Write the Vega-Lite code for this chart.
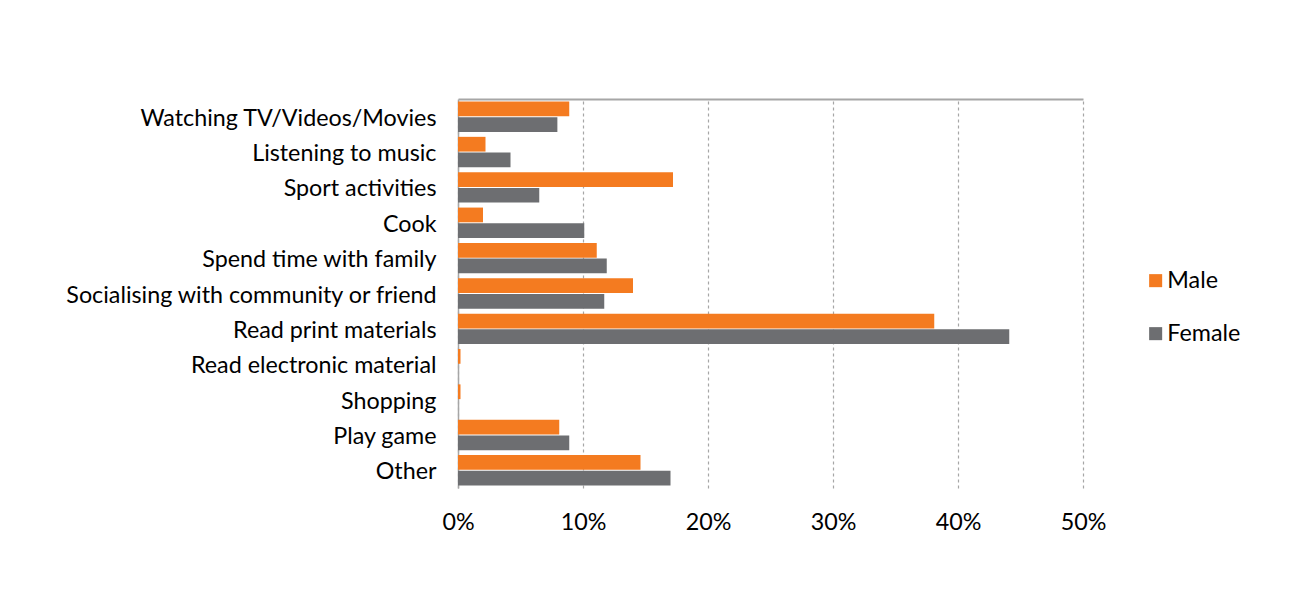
{
  "$schema": "https://vega.github.io/schema/vega-lite/v6.json",
  "autosize": "none",
  "width": 625,
  "height": 389,
  "padding": {"left": 458, "top": 99, "right": 207, "bottom": 126},
  "background": "white",
  "config": {
    "font": "Lato",
    "view": {"stroke": null},
    "axis": {"labelFont": "Lato", "labelColor": "#000000"},
    "legend": {"labelFont": "Lato"}
  },
  "data": {
    "values": [
      {"activity": "Watching TV/Videos/Movies", "gender": "Male", "value": 0.089},
      {"activity": "Watching TV/Videos/Movies", "gender": "Female", "value": 0.0795},
      {"activity": "Listening to music", "gender": "Male", "value": 0.022},
      {"activity": "Listening to music", "gender": "Female", "value": 0.042},
      {"activity": "Sport activities", "gender": "Male", "value": 0.172},
      {"activity": "Sport activities", "gender": "Female", "value": 0.065},
      {"activity": "Cook", "gender": "Male", "value": 0.020},
      {"activity": "Cook", "gender": "Female", "value": 0.101},
      {"activity": "Spend time with family", "gender": "Male", "value": 0.111},
      {"activity": "Spend time with family", "gender": "Female", "value": 0.119},
      {"activity": "Socialising with community or friend", "gender": "Male", "value": 0.140},
      {"activity": "Socialising with community or friend", "gender": "Female", "value": 0.117},
      {"activity": "Read print materials", "gender": "Male", "value": 0.381},
      {"activity": "Read print materials", "gender": "Female", "value": 0.441},
      {"activity": "Read electronic material", "gender": "Male", "value": 0.002},
      {"activity": "Read electronic material", "gender": "Female", "value": 0.0},
      {"activity": "Shopping", "gender": "Male", "value": 0.002},
      {"activity": "Shopping", "gender": "Female", "value": 0.0},
      {"activity": "Play game", "gender": "Male", "value": 0.081},
      {"activity": "Play game", "gender": "Female", "value": 0.089},
      {"activity": "Other", "gender": "Male", "value": 0.146},
      {"activity": "Other", "gender": "Female", "value": 0.170}
    ]
  },
  "resolve": {"axis": {"x": "independent"}},
  "layer": [
    {
      "mark": {"type": "bar"},
      "encoding": {
        "y": {
          "field": "activity", "type": "nominal", "sort": null,
          "scale": {"paddingInner": 0.14, "paddingOuter": 0.07},
          "axis": {
            "title": null, "domainColor": "#a6a6a6", "domainWidth": 1.5,
            "ticks": false, "labelFontSize": 23.3, "labelPadding": 22, "labelOffset": 2, "grid": false, "labelLimit": 500
          }
        },
        "yOffset": {
          "field": "gender", "type": "nominal", "sort": ["Male", "Female"],
          "scale": {"paddingInner": 0.06}
        },
        "x": {
          "field": "value", "type": "quantitative",
          "scale": {"domain": [0, 0.5], "nice": false},
          "axis": {
            "title": null, "orient": "bottom", "format": ".0%", "values": [0, 0.1, 0.2, 0.3, 0.4, 0.5],
            "domain": false, "ticks": false, "labelFontSize": 23.3, "labelPadding": 23, "labelFlush": false,
            "grid": true, "gridColor": "#a6a6a6", "gridDash": [3, 3], "gridWidth": 1.2
          }
        },
        "color": {
          "field": "gender", "type": "nominal",
          "scale": {"domain": ["Male", "Female"], "range": ["#F47B20", "#6D6E71"]},
          "legend": {
            "title": null, "orient": "none", "legendX": 686, "legendY": 170,
            "symbolType": "square", "symbolSize": 170, "symbolStrokeWidth": 0,
            "labelFontSize": 23.3, "labelOffset": 0, "rowPadding": 29, "labelColor": "#000000"
          }
        }
      }
    },
    {
      "mark": {"type": "point", "opacity": 0},
      "encoding": {
        "y": {"field": "activity", "type": "nominal", "sort": null},
        "x": {
          "field": "value", "type": "quantitative",
          "axis": {
            "title": null, "orient": "top", "labels": false, "ticks": false, "grid": false,
            "domain": true, "domainColor": "#a6a6a6", "domainWidth": 2
          }
        }
      }
    }
  ]
}
